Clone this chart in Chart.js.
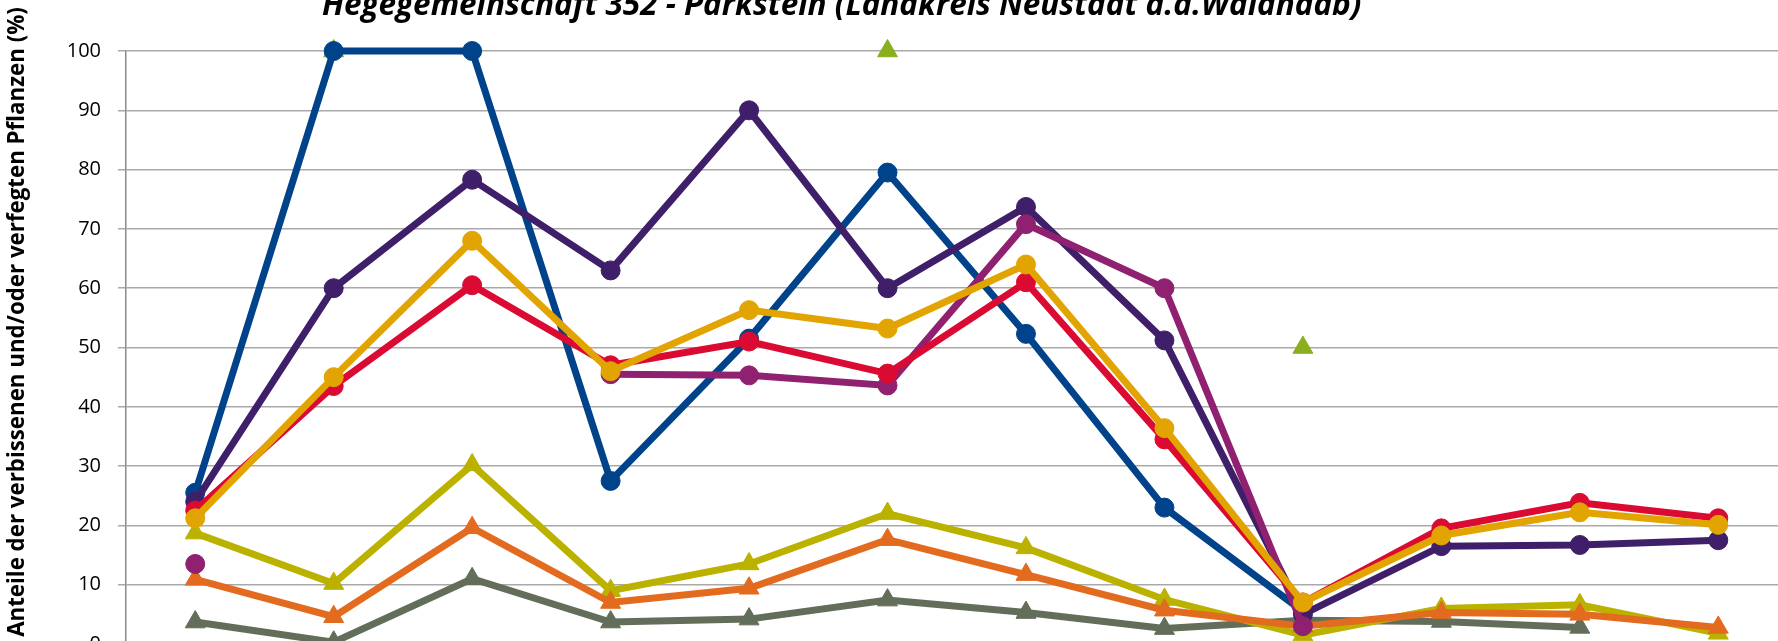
<!DOCTYPE html>
<html>
<head>
<meta charset="utf-8">
<script src="https://cdn.jsdelivr.net/npm/chart.js@4/dist/chart.umd.min.js"></script>
<style>
  html, body { margin: 0; padding: 0; background: #ffffff; overflow: hidden; width: 1778px; height: 641px; }
  #c { position: absolute; left: 0; top: 0; }
</style>
</head>
<body>
<canvas id="c" width="1800" height="720"></canvas>
<script>
// ---- data ----
const chartTitle = "Hegegemeinschaft 352 - Parkstein (Landkreis Neustadt a.d.Waldnaab)";
const yAxisTitle = "Anteile der verbissenen und/oder verfegten Pflanzen (%)";
const years = ["1991", "1994", "1997", "2000", "2003", "2006", "2009", "2012", "2015", "2018", "2021", "2024"];
const yTicks = [0, 10, 20, 30, 40, 50, 60, 70, 80, 90, 100];

const tanne      = [25.5, 100, 100, 27.5, 51.5, 79.5, 52.3, 23, 5.5, null, null, null];
const sonstLbh   = [24, 60, 78.3, 63, 90, 60, 73.7, 51.2, 5, 16.5, 16.7, 17.5];
const edelLbh    = [13.5, null, null, 45.5, 45.3, 43.6, 70.8, 60, 3, null, null, null];
const eiche      = [22.5, 43.5, 60.5, 47, 51, 45.6, 61, 34.5, 7, 19.5, 23.8, 21.2];
const buche      = [21.2, 45, 68, 46, 56.3, 53.2, 64, 36.4, 7, 18.3, 22.2, 20.1];
const fichte     = [18.7, 10.2, 30.2, 9, 13.5, 22, 16.2, 7.5, 1.5, 6, 6.6, 1.8];
const kiefer     = [10.9, 4.6, 19.6, 7, 9.4, 17.6, 11.7, 5.7, 3, 5.3, 5, 2.8];
const fegeNadel  = [3.7, 0.3, 11, 3.7, 4.2, 7.4, 5.3, 2.6, 4, 3.8, 2.8, null];
const fegeLaub   = [null, 100, null, null, null, 100, null, null, 50, null, null, null];

const seriesNames = ["Buche", "Eiche", "Edellaubholz", "Sonstiges Laubholz", "Tanne",
                     "Kiefer", "Fichte", "Fegeschäden Nadelholz", "Fegeschäden Laubholz"];
const seriesColors = ["#e2a400", "#db0a32", "#8f2170", "#3f1f69", "#00438a",
                      "#e36b1f", "#bbb200", "#626d5a", "#8aae1e"];

// ---- chart ----
function lineDs(label, data, color, shape, showLine) {
  const tri = shape === 'triangle';
  return {
    label: label,
    data: data,
    borderColor: color,
    backgroundColor: color,
    borderWidth: 7,
    pointStyle: shape,
    pointRadius: tri ? 11.5 : 9.5,
    pointHoverRadius: tri ? 11.5 : 9.5,
    pointBorderWidth: 1,
    pointBackgroundColor: color,
    pointBorderColor: color,
    showLine: showLine,
    spanGaps: false,
    tension: 0,
    clip: false
  };
}

const datasets = [
  lineDs(seriesNames[0], buche, seriesColors[0], 'circle', true),
  lineDs(seriesNames[1], eiche, seriesColors[1], 'circle', true),
  lineDs(seriesNames[2], edelLbh, seriesColors[2], 'circle', true),
  lineDs(seriesNames[3], sonstLbh, seriesColors[3], 'circle', true),
  lineDs(seriesNames[4], tanne, seriesColors[4], 'circle', true),
  lineDs(seriesNames[5], kiefer, seriesColors[5], 'triangle', true),
  lineDs(seriesNames[6], fichte, seriesColors[6], 'triangle', true),
  lineDs(seriesNames[7], fegeNadel, seriesColors[7], 'triangle', true),
  lineDs(seriesNames[8], fegeLaub, seriesColors[8], 'triangle', false)
];

const titlesPlugin = {
  id: 'titlesPlugin',
  afterDraw(chart) {
    const ctx = chart.ctx;
    ctx.save();
    ctx.fillStyle = '#000000';
    // chart title
    let fs = 30;
    ctx.font = 'italic bold ' + fs + 'px "Open Sans"';
    fs = fs * 1040 / ctx.measureText(chartTitle).width;
    ctx.font = 'italic bold ' + fs + 'px "Open Sans"';
    ctx.textAlign = 'left';
    ctx.textBaseline = 'alphabetic';
    ctx.fillText(chartTitle, 322, 15);
    // y axis title
    let fy = 20;
    ctx.font = 'bold ' + fy + 'px "Open Sans"';
    fy = fy * 630 / ctx.measureText(yAxisTitle).width;
    ctx.font = 'bold ' + fy + 'px "Open Sans"';
    ctx.translate(18, 322);
    ctx.rotate(-Math.PI / 2);
    ctx.textAlign = 'center';
    ctx.textBaseline = 'middle';
    ctx.fillText(yAxisTitle, 0, 0);
    ctx.restore();
  }
};

new Chart(document.getElementById('c'), {
  type: 'line',
  data: { labels: years, datasets: datasets },
  options: {
    responsive: false,
    animation: false,
    devicePixelRatio: 1,
    layout: { padding: { top: 51, right: 8, left: 0, bottom: 0 } },
    plugins: {
      legend: { display: false },
      title: { display: false },
      tooltip: { enabled: false }
    },
    scales: {
      x: {
        type: 'category',
        offset: true,
        grid: { display: false, drawTicks: true },
        border: { display: true, color: '#8c8c8c', width: 1.5 },
        ticks: { font: { family: 'Open Sans', size: 20 }, color: '#000' },
        afterFit(scale) { scale.height = 76; }
      },
      y: {
        min: 0,
        max: 100,
        afterBuildTicks(scale) { scale.ticks = yTicks.map(v => ({ value: v })); },
        grid: { color: '#a9a9a9', lineWidth: 1.5, tickLength: 8, drawTicks: true },
        border: { display: true, color: '#8c8c8c', width: 1.5 },
        ticks: { font: { family: 'Open Sans', size: 20 }, color: '#000', padding: 17 },
        afterFit(scale) { scale.width = 126; }
      }
    }
  },
  plugins: [titlesPlugin]
});
</script>
</body>
</html>
